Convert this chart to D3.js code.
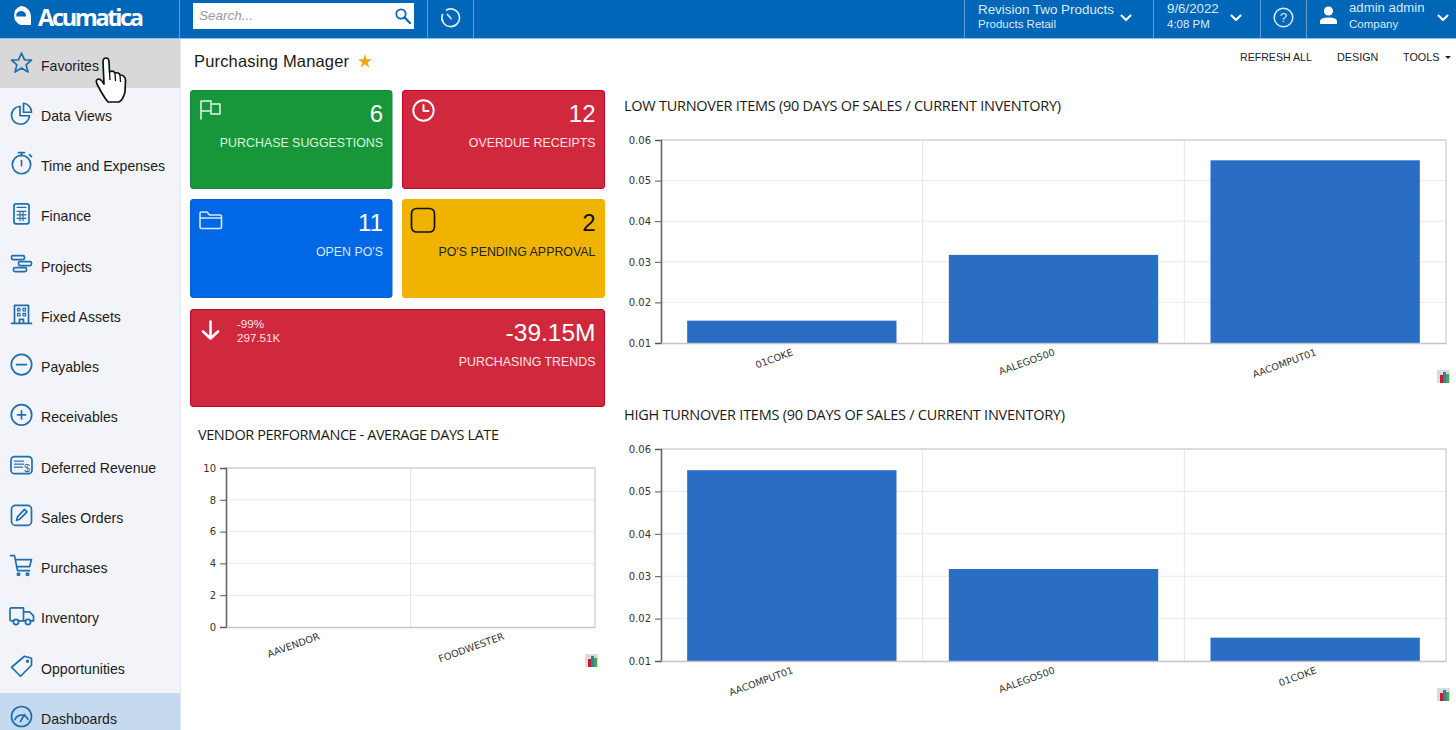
<!DOCTYPE html>
<html>
<head>
<meta charset="utf-8">
<title>Purchasing Manager</title>
<script src="https://cdnjs.cloudflare.com/ajax/libs/d3/7.8.5/d3.min.js"></script>
<style>
html, body { margin: 0; padding: 0; background: #fff; overflow: hidden; }
svg { display: block; font-family: "Liberation Sans", Arial, sans-serif; }
.chart-axis text { font-family: "DejaVu Sans", sans-serif; font-size: 10px; fill: #333; }
.chart-axis.x-axis text { font-size: 9.7px; }
</style>
</head>
<body>
<svg id="page" width="1456" height="730"></svg>
<script>
// chart data
var lowItems = ['01COKE', 'AALEGO500', 'AACOMPUT01']
var lowValues = [0.0155, 0.0317, 0.055]
var highItems = ['AACOMPUT01', 'AALEGO500', '01COKE']
var highValues = [0.055, 0.0317, 0.0155]
var vendors = ['AAVENDOR', 'FOODWESTER']
var vendorValues = [0, 0]
var turnoverTicks = [0.01, 0.02, 0.03, 0.04, 0.05, 0.06]
var vendorTicks = [0, 2, 4, 6, 8, 10]

// tiles and menu text
var tileLabels = ['PURCHASE SUGGESTIONS', 'OVERDUE RECEIPTS', "OPEN PO'S", "PO'S PENDING APPROVAL", 'PURCHASING TRENDS']
var tileValues = ['6', '12', '11', '2', '-39.15M']
var menuLabels = ['Favorites', 'Data Views', 'Time and Expenses', 'Finance', 'Projects', 'Fixed Assets', 'Payables', 'Receivables', 'Deferred Revenue', 'Sales Orders', 'Purchases', 'Inventory', 'Opportunities', 'Dashboards']

var svg = d3.select('#page')
var BLUE = '#0066b8', ICON = '#1f6fae'

function label(txt, x, y, size, color, anchor, family, style) {
  return svg.append('text').text(txt).attr('x', x).attr('y', y)
    .attr('font-size', size).attr('fill', color)
    .attr('text-anchor', anchor || 'start')
    .attr('font-family', family || null)
    .attr('font-style', style || null)
}
function icon(x, y, color, sw) {
  return svg.append('g').attr('transform', 'translate(' + x + ',' + y + ')')
    .attr('fill', 'none').attr('stroke', color).attr('stroke-width', sw || 1.7)
    .attr('stroke-linejoin', 'round').attr('stroke-linecap', 'round')
}

// sidebar
svg.append('rect').attr('x', 0).attr('y', 38).attr('width', 180).attr('height', 692).attr('fill', '#f3f3fa')
svg.append('rect').attr('x', 180).attr('y', 38).attr('width', 1).attr('height', 692).attr('fill', '#e4e6ee')
svg.append('rect').attr('x', 0).attr('y', 39).attr('width', 180).attr('height', 49).attr('fill', '#d8d8d9')
svg.append('rect').attr('x', 0).attr('y', 693).attr('width', 180).attr('height', 37).attr('fill', '#c6daef')

var menuY = d3.scalePoint().domain(menuLabels).range([65, 718.5])
menuLabels.forEach(function(m) {
  label(m, 41, menuY(m) + 5.5, 14.1, '#1c1c1c')
})

var menuIcons = {
  'Favorites': function(g) { g.append('path').attr('d', 'M0,-10 L3,-3.2 L10,-3 L4.6,1.8 L6.5,9 L0,5 L-6.5,9 L-4.6,1.8 L-10,-3 L-3,-3.2 Z') },
  'Data Views': function(g) {
    g.append('path').attr('d', 'M-1.5,-7 A9,9 0 1 0 8,2.5 L-1.5,2.5 Z')
    g.append('path').attr('d', 'M2,-10 A9,9 0 0 1 10,-1 L2,-1 Z')
  },
  'Time and Expenses': function(g) {
    g.append('circle').attr('cy', 1).attr('r', 9.2)
    g.append('path').attr('d', 'M-3,-11 H3 M0,-11 V-8 M8,-9 L10,-7 M0,-3 V2')
  },
  'Finance': function(g) {
    g.append('rect').attr('x', -7.5).attr('y', -10).attr('width', 15).attr('height', 20).attr('rx', 2)
    g.append('path').attr('d', 'M-4.5,-6.5 H4.5 M-4.5,-2.5 H4.5 M-4.5,1 H4.5 M-4.5,4.5 H4.5 M-1.5,-2.5 V7 M1.5,-2.5 V7').attr('stroke-width', 1.2)
  },
  'Projects': function(g) {
    g.append('rect').attr('x', -10).attr('y', -8.5).attr('width', 13).attr('height', 4).attr('rx', 1.5)
    g.append('rect').attr('x', -3).attr('y', -2.5).attr('width', 13).attr('height', 4).attr('rx', 1.5)
    g.append('rect').attr('x', -8).attr('y', 3.5).attr('width', 13).attr('height', 4).attr('rx', 1.5)
  },
  'Fixed Assets': function(g) {
    g.append('path').attr('d', 'M-7,9 V-9 H7 V9 M-10,9 H10 M-2,9 V5 H2 V9')
    g.append('path').attr('d', 'M-4,-6 h2.5 v2.5 h-2.5 Z M1.5,-6 h2.5 v2.5 h-2.5 Z M-4,-1 h2.5 v2.5 h-2.5 Z M1.5,-1 h2.5 v2.5 h-2.5 Z').attr('stroke-width', 1.2)
  },
  'Payables': function(g) {
    g.append('circle').attr('r', 10.2)
    g.append('path').attr('d', 'M-5,0 H5')
  },
  'Receivables': function(g) {
    g.append('circle').attr('r', 10.2)
    g.append('path').attr('d', 'M-4,0 H4 M0,-4 V4')
  },
  'Deferred Revenue': function(g) {
    g.append('rect').attr('x', -10.5).attr('y', -8.5).attr('width', 21).attr('height', 17).attr('rx', 3.5)
    g.append('path').attr('d', 'M-7,-4 H3 M-7,-1 H3 M-7,2 H1').attr('stroke-dasharray', '1.5 1').attr('stroke-width', 1.3)
    g.append('text').text('$').attr('x', 5.5).attr('y', 6.5).attr('font-size', 11).attr('text-anchor', 'middle').attr('stroke', 'none').attr('fill', ICON)
  },
  'Sales Orders': function(g) {
    g.append('rect').attr('x', -10).attr('y', -10).attr('width', 20).attr('height', 20).attr('rx', 4)
    g.append('path').attr('d', 'M-5,5 L-4,1.5 L3,-6 L5.5,-3.5 L-1.5,3.5 Z')
  },
  'Purchases': function(g) {
    g.append('path').attr('d', 'M-11,-10 H-7 L-4,5 H8 M-6,-6 H10 L8,1 H-5')
    g.append('circle').attr('cx', -3).attr('cy', 8.5).attr('r', 1.2)
    g.append('circle').attr('cx', 6).attr('cy', 8.5).attr('r', 1.2)
  },
  'Inventory': function(g) {
    g.append('path').attr('d', 'M-8,5 H-10 Q-11.5,5 -11.5,3.5 V-6 Q-11.5,-8 -10,-8 H2 V5 H-3 M2,-4 H8 L12,0 V5 H9 M2,5 H4')
    g.append('circle').attr('cx', -5.5).attr('cy', 6).attr('r', 2.6)
    g.append('circle').attr('cx', 6.5).attr('cy', 6).attr('r', 2.6)
  },
  'Opportunities': function(g) {
    g.append('path').attr('d', 'M-10,1 L3,-10 L10,-8 L10,-1 L-1,10 Z')
    g.append('circle').attr('cx', 6).attr('cy', -5).attr('r', 0.8)
  },
  'Dashboards': function(g) {
    g.append('circle').attr('r', 10)
    g.append('path').attr('d', 'M-6.5,3 A7,7 0 0 1 6.5,3 M-1,5 L3,-2')
  }
}
menuLabels.forEach(function(m) {
  var g = icon(21.5, menuY(m) - 2, ICON)
  menuIcons[m](g)
})

// hand cursor
svg.append('path')
  .attr('d', 'M103,62 Q103,58 106,58 Q109,58 109,62 L109.5,72 Q113,70 115,73 Q119,72 120,75 Q125,75 125.5,80 L125,92 Q123,100 119,102 H108 Q103,96 97,84 Q95,79 99,79 Q102,80 104,84 Z')
  .attr('fill', '#fff').attr('stroke', '#111').attr('stroke-width', 1.7).attr('stroke-linejoin', 'round')
svg.append('path').attr('d', 'M109.5,72 L110,80 M115,73 L115.5,81 M120,75 L120.5,82')
  .attr('fill', 'none').attr('stroke', '#111').attr('stroke-width', 1.3)

// header
svg.append('rect').attr('width', 1456).attr('height', 38).attr('fill', BLUE)
svg.append('rect').attr('y', 38).attr('width', 1456).attr('height', 1).attr('fill', '#8fc0ec')
;[179, 427, 473, 964, 1153, 1260, 1306].forEach(function(x) {
  svg.append('rect').attr('x', x).attr('y', 0).attr('width', 1).attr('height', 38).attr('fill', '#5b9fdc')
})
svg.append('path').attr('fill-rule', 'evenodd').attr('fill', '#fff')
  .attr('d', 'M22,6 A10.5,10.5 0 0 1 32,16 V25 H22 A10,10 0 0 1 22,6 Z M22,11 A4.6,4.6 0 0 0 17.3,16.5 H27 A4.8,4.8 0 0 0 22,11 Z')
  .attr('transform', 'translate(-1,0)')
label('Acumatica', 38, 25.5, 23.5, '#fff', 'start', 'Open Sans').attr('font-weight', 700).attr('textLength', 106)

svg.append('rect').attr('x', 193).attr('y', 3).attr('width', 221).attr('height', 26).attr('fill', '#fff')
label('Search...', 199, 20, 13.5, '#9a9a9a', 'start', null, 'italic')
var s = icon(401, 14, BLUE, 1.8)
s.append('circle').attr('r', 4.7)
s.append('path').attr('d', 'M3.5,3.5 L9,9').attr('stroke-width', 2.2)
var h = icon(450.5, 17.5, '#dbeaf7', 1.7)
h.append('path').attr('d', 'M-4,-7.5 A8.8,8.8 0 1 1 -8,-3')
h.append('path').attr('d', 'M-3,-3 L0.5,1')

label('Revision Two Products', 978, 14, 13.4, '#dbeaf7')
label('Products Retail', 978, 27.5, 11.5, '#dbeaf7')
label('9/6/2022', 1167, 13, 13.3, '#dbeaf7')
label('4:08 PM', 1167, 27.5, 11.5, '#dbeaf7')
label('admin admin', 1349, 12, 13.2, '#dbeaf7')
label('Company', 1349, 27.5, 11.5, '#dbeaf7')
;[1126, 1236, 1443].forEach(function(x) {
  icon(x, 18, '#fff', 2).append('path').attr('d', 'M-4.5,-2.5 L0,2 L4.5,-2.5')
})
var q = icon(1283.5, 17.5, '#dbeaf7', 1.5)
q.append('circle').attr('r', 9.3)
q.append('text').text('?').attr('y', 4.8).attr('text-anchor', 'middle').attr('font-size', 13.5).attr('stroke', 'none').attr('fill', '#dbeaf7')
svg.append('circle').attr('cx', 1328.5).attr('cy', 11).attr('r', 4.6).attr('fill', '#fff')
svg.append('path').attr('d', 'M1320,24 V21.5 Q1320,17.5 1328.5,17.5 Q1337,17.5 1337,21.5 V24 Z').attr('fill', '#fff')

// page title and toolbar
label('Purchasing Manager', 194, 67, 16.5, '#1a1a1a').attr('textLength', 155)
svg.append('path').attr('transform', 'translate(365,61.5)').attr('fill', '#e8a90c')
  .attr('d', d3.symbol().type(d3.symbolStar).size(62)())
label('REFRESH ALL', 1240, 61, 10.6, '#222')
label('DESIGN', 1337, 61, 10.8, '#222')
label('TOOLS', 1403, 61, 10.8, '#222')
svg.append('path').attr('d', 'M1445,56 h6 l-3,3 Z').attr('fill', '#222')

// tiles
var tileBoxes = [
  { x: 190, y: 90, w: 202.5, h: 99, fill: '#18973a', edge: '#15883a', text: '#fff', sub: '#d8f5df' },
  { x: 402, y: 90, w: 203, h: 99, fill: '#d0283c', edge: '#c4071f', text: '#fff', sub: '#ffe3e6' },
  { x: 190, y: 199, w: 202.5, h: 99, fill: '#0067e6', edge: '#0a60c8', text: '#fff', sub: '#d5e8ff' },
  { x: 402, y: 199, w: 203, h: 99, fill: '#f0b400', edge: '#f0b400', text: '#111', sub: '#222' },
  { x: 190, y: 309, w: 415, h: 98, fill: '#d0283c', edge: '#c4071f', text: '#fff', sub: '#ffe3e6' }
]
tileBoxes.forEach(function(b, i) {
  svg.append('rect').attr('x', b.x + 0.5).attr('y', b.y + 0.5).attr('width', b.w - 1).attr('height', b.h - 1)
    .attr('rx', 2.5).attr('fill', b.fill).attr('stroke', b.edge)
  label(tileValues[i], b.x + b.w - 9.5, b.y + 31.5, i === 4 ? 24.5 : 24, b.text, 'end')
  label(tileLabels[i], b.x + b.w - 9.5, b.y + 57, 12.4, b.sub, 'end')
})
var f = icon(201, 101, '#e6f6ea', 1.5)
f.append('path').attr('d', 'M0,18 V0 H10 V3 H19 V13 H10 V10 H0 M10,3 V10')
var c = icon(423.5, 110.5, '#fff', 1.9)
c.append('circle').attr('r', 10.2)
c.append('path').attr('d', 'M0,-5.5 V0.5 H5')
icon(200, 212, '#d5e8ff', 1.6).append('path').attr('d', 'M1.5,16.5 Q0,16.5 0,15 V1.5 Q0,0 1.5,0 H7 L9.5,3 H20 Q21.5,3 21.5,4.5 V15 Q21.5,16.5 20,16.5 Z M0,6 H21.5')
icon(411.5, 208.5, '#111', 1.7).append('rect').attr('width', 23).attr('height', 23.5).attr('rx', 5)
icon(210.5, 330, '#fff', 2.6).append('path').attr('d', 'M0,-8.5 V8.5 M-7.5,1.5 L0,8.5 L7.5,1.5')
label('-99%', 237, 328, 11.6, '#ffe3e6')
label('297.51K', 237, 341.5, 11.6, '#ffe3e6')

// one chart block: title, grid, bars, axes
function barChart(opts) {
  var x = d3.scaleBand().domain(opts.items).range([opts.left, opts.right]).paddingInner(0.2).paddingOuter(0.1)
  var y = d3.scaleLinear().domain(d3.extent(opts.ticks)).range([opts.bottom, opts.top])
  var gridX = d3.scaleLinear().domain([0, opts.items.length]).range([opts.left, opts.right])

  label(opts.title, opts.titleX, opts.titleY, 14.5, '#1a1a1a', 'start', 'Open Sans').attr('textLength', opts.titleW)

  svg.append('g').selectAll('line').data(opts.ticks.slice(1, -1)).join('line')
    .attr('x1', opts.left).attr('x2', opts.right)
    .attr('y1', function(d) { return y(d) }).attr('y2', function(d) { return y(d) })
    .attr('stroke', '#eaeaee')
  svg.append('g').selectAll('line').data(d3.range(1, opts.items.length)).join('line')
    .attr('x1', function(d) { return gridX(d) }).attr('x2', function(d) { return gridX(d) })
    .attr('y1', opts.top).attr('y2', opts.bottom)
    .attr('stroke', '#e4e4ea')

  svg.append('path')
    .attr('d', 'M' + opts.left + ',' + opts.top + ' H' + opts.right + ' V' + opts.bottom)
    .attr('fill', 'none').attr('stroke', '#cfcfd6').attr('stroke-width', 1.3)

  svg.append('g').selectAll('rect').data(opts.values).join('rect')
    .attr('x', function(d, i) { return x(opts.items[i]) })
    .attr('width', x.bandwidth())
    .attr('y', function(d) { return y(Math.max(d, y.domain()[0])) })
    .attr('height', function(d) { return opts.bottom - y(Math.max(d, y.domain()[0])) })
    .attr('fill', '#2a6dc4')

  var ax = svg.append('g').attr('class', 'chart-axis')
    .attr('transform', 'translate(' + opts.left + ',0)')
    .call(d3.axisLeft(y).tickValues(opts.ticks).tickSize(6).tickPadding(4).tickFormat(opts.format))
  ax.selectAll('line').attr('stroke', '#555').attr('stroke-width', 1)
  ax.select('.domain').attr('stroke', '#666').attr('stroke-width', 1.6)

  var bx = svg.append('g').attr('class', 'chart-axis x-axis')
    .attr('transform', 'translate(0,' + opts.bottom + ')')
    .call(d3.axisBottom(x).tickSize(0).tickPadding(0))
  bx.select('.domain').attr('stroke', '#c4c4cc').attr('stroke-width', 1.3)
  bx.selectAll('text')
    .attr('text-anchor', 'end').attr('y', 0).attr('dy', 0)
    .attr('transform', 'translate(2,12) rotate(-20)')
    .attr('fill', '#333')

  // small chart-type button
  var bt = svg.append('g').attr('transform', 'translate(' + opts.btnX + ',' + opts.btnY + ')')
  bt.append('rect').attr('width', 13).attr('height', 13).attr('rx', 1).attr('fill', '#d9dbe0')
  bt.append('rect').attr('x', 3).attr('y', 5).attr('width', 3).attr('height', 8).attr('fill', '#c0202a')
  bt.append('rect').attr('x', 6).attr('y', 2).attr('width', 3).attr('height', 11).attr('fill', '#2e7db8')
  bt.append('rect').attr('x', 9).attr('y', 4).attr('width', 3).attr('height', 9).attr('fill', '#4ba84a')
}

var fmt2 = d3.format('.2f')
barChart({ title: 'LOW TURNOVER ITEMS (90 DAYS OF SALES / CURRENT INVENTORY)', titleX: 624, titleY: 111, titleW: 437,
  items: lowItems, values: lowValues, ticks: turnoverTicks, format: fmt2,
  left: 661, right: 1446, top: 140, bottom: 343, btnX: 1437, btnY: 370 })
barChart({ title: 'HIGH TURNOVER ITEMS (90 DAYS OF SALES / CURRENT INVENTORY)', titleX: 624, titleY: 420, titleW: 441,
  items: highItems, values: highValues, ticks: turnoverTicks, format: fmt2,
  left: 661, right: 1446, top: 449, bottom: 661, btnX: 1437, btnY: 688 })
barChart({ title: 'VENDOR PERFORMANCE - AVERAGE DAYS LATE', titleX: 198, titleY: 440, titleW: 301,
  items: vendors, values: vendorValues, ticks: vendorTicks, format: d3.format('d'),
  left: 226, right: 595, top: 468, bottom: 627, btnX: 585, btnY: 654 })
</script>
</body>
</html>
